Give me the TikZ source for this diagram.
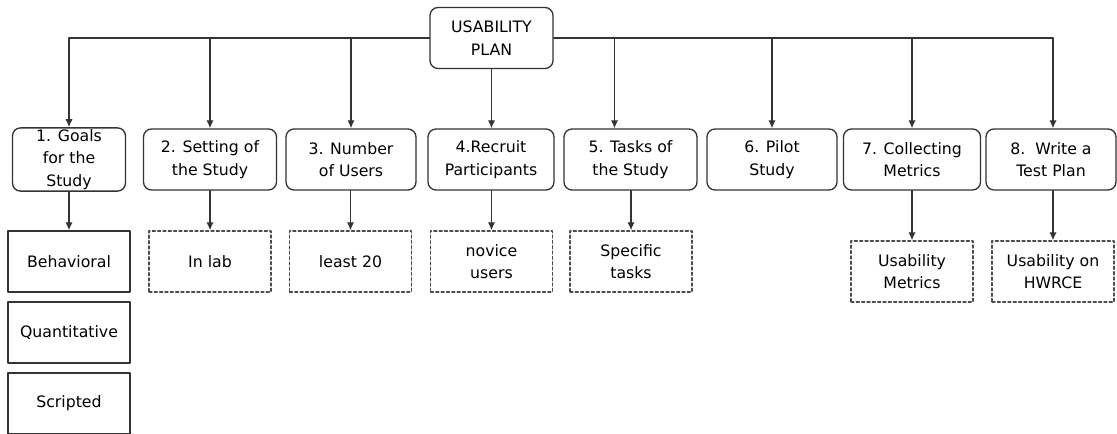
\documentclass[tikz,border=0pt]{standalone}
\usepackage{fontspec}
\setmainfont{DejaVu Sans}
\usetikzlibrary{arrows.meta}
\begin{document}
\begin{tikzpicture}[x=0.75pt, y=-0.75pt, line cap=round, line join=round, >={Latex[length=6pt,width=5.5pt]},
  font=\fontsize{11.8}{17}\selectfont, line width=1pt, draw=black!80]
			\tikzset{stepbox/.style={draw=black!80, rounded corners=6pt, align=center, inner sep=1pt, minimum height=61*0.75pt},
			         notebox/.style={draw=black!70, dash pattern=on 2.2pt off 1.8pt, align=center, minimum width=122*0.75pt, minimum height=61*0.75pt},
			         aspectbox/.style={draw=black!80, align=center, minimum width=122*0.75pt, minimum height=61*0.75pt}}
			\useasboundingbox (0,0) rectangle (1117,434);
			% top
			\node[stepbox, minimum width=123*0.75pt] (plan) at (491.5,38) {USABILITY\\PLAN};
			% steps
			\node[stepbox, minimum width=113*0.75pt] (g1) at (69,159.5) {1. Goals\\for the\\Study};
			\node[stepbox, minimum width=133*0.75pt] (g2) at (210,159.5) {2. Setting of\\the Study};
			\node[stepbox, minimum width=130*0.75pt] (g3) at (351,159.5) {3. Number\\of Users};
			\node[stepbox, minimum width=126*0.75pt] (g4) at (491,159.5) {4.Recruit\\Participants};
			\node[stepbox, minimum width=133*0.75pt] (g5) at (630.5,159.5) {5. Tasks of\\the Study};
			\node[stepbox, minimum width=130*0.75pt] (g6) at (772,159.5) {6. Pilot\\Study};
			\node[stepbox, minimum width=137*0.75pt] (g7) at (912,159.5) {7. Collecting\\Metrics};
			\node[stepbox, minimum width=130*0.75pt] (g8) at (1051,159.5) {8.\ \ Write a\\Test Plan};
			% details
			\node[aspectbox] (b1) at (69,261.5) {Behavioral};
			\node[aspectbox] (b2) at (69,332.5) {Quantitative};
			\node[aspectbox] (b3) at (69,403.5) {Scripted};
			\node[notebox] (d2) at (210,261.5) {In lab};
			\node[notebox] (d3) at (350.5,261.5) {least 20};
			\node[notebox] (d4) at (491.5,261.5) {novice\\users};
			\node[notebox] (d5) at (631,261.5) {Specific\\tasks};
			\node[notebox] (d7) at (912,271.5) {Usability\\Metrics};
			\node[notebox] (d8) at (1053,271.5) {Usability on\\HWRCE};
			% connectors
			\draw (plan.west) -- (plan.west -| g1.north);
			\draw (plan.east) -- (plan.east -| d8.north);
			\foreach \n in {1,2,3}
				\draw[->] (plan.west -| g\n.north) -- (g\n.north);
			\draw[->] (plan.south) -- (plan.south |- g4.north);
			\draw[->] ([xshift=-12pt]g5.north |- plan.east) -- ([xshift=-12pt]g5.north);
			\foreach \n in {6,7}
				\draw[->] (plan.east -| g\n.north) -- (g\n.north);
			\draw[->] (plan.east -| d8.north) -- (d8.north |- g8.north);
			\draw[->] (g1) -- (b1);
			\foreach \n in {2,3,4,5,7}
				\draw[->] (d\n.north |- g\n.south) -- (d\n.north);
			\draw[->] (d8.north |- g8.south) -- (d8.north);
		\end{tikzpicture}
\end{document}
